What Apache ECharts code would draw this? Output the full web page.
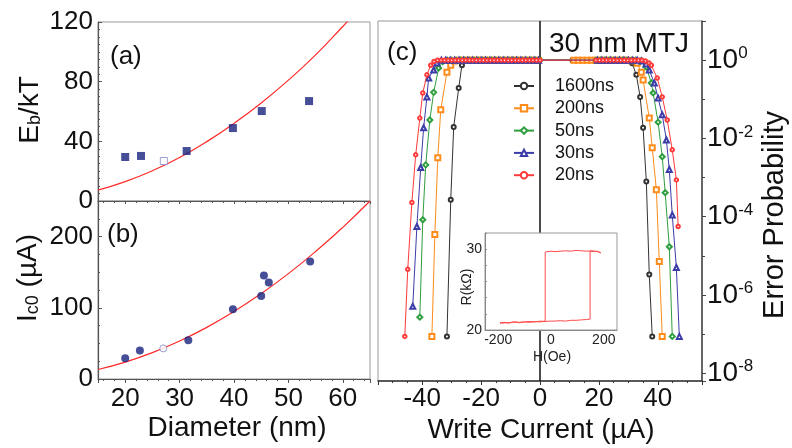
<!DOCTYPE html>
<html><head><meta charset="utf-8">
<script src="https://cdn.jsdelivr.net/npm/echarts@6/dist/echarts.min.js"></script>
<style>html,body{margin:0;padding:0;background:#fff}#c{width:792px;height:448px}</style>
</head><body><div id="c"></div>
<script>
const FONT = '"Liberation Sans", Arial, Helvetica, sans-serif';
// ---------- panel (a): Eb/kT vs diameter ----------
const diamA = [20, 22.9, 31.3, 39.8, 45.1, 53.8];
const ebA = [29.5, 30.2, 33.5, 48.9, 60.3, 67];
const diamAOpen = [27.1];
const ebAOpen = [26.8];
const fitDiamA = [15, 20, 25, 30, 35, 40, 45, 50, 55, 60, 61];
const fitEbA = [7.3, 13, 20.3, 29.2, 39.8, 52, 65.7, 81, 98, 117, 121];
// ---------- panel (b): Ic0 vs diameter ----------
const diamB = [20, 22.7, 31.6, 39.8, 45, 45.5, 46.4, 54];
const icB = [29, 40, 54.5, 98, 116.5, 145.5, 135.7, 165];
const diamBOpen = [27];
const icBOpen = [43];
const fitDiamB = [15, 20, 25, 30, 35, 40, 45, 50, 55, 60, 65];
const fitIcB = [13.3, 23.7, 37, 53.3, 72.5, 94.7, 120, 148, 179, 213, 250];
// ---------- panel (c): error probability vs write current [current, probability] ----------
const pulseNames = ['1600ns', '200ns', '50ns', '30ns', '20ns'];
const s1600 = [[-31.6,8.7e-8],[-30.3,2.7e-4],[-29.3,0.0195],[-27.6,0.195],[-26.5,0.74],[-25,1],[-23.5,1],[-22,1],[-20.5,1],[-19,1],[-17.5,1],[-16,1],[-14.5,1],[-13,1],[-11.5,1],[-10,1],[-8.5,1],[-7,1],[-5.5,1],[-4,1],[-2.5,1],[-1,1],[11,1],[12.5,1],[14,1],[15.5,1],[17,1],[18.5,1],[20,1],[21.5,1],[23,1],[24.5,1],[26,1],[27.5,1],[29,1],[30.2,0.97],[31.3,0.83],[32.7,0.42],[34,0.115],[35,0.0186],[36.1,7.9e-4],[37.1,3.3e-6],[38.1,8.7e-8]];
const s200 = [[-36.7,8.7e-8],[-35.7,3.5e-5],[-34.7,3.2e-3],[-33.7,0.054],[-31.6,0.49],[-30.3,0.74],[-29,0.95],[-27.5,1],[-26,1],[-24.5,1],[-23,1],[-21.5,1],[-20,1],[-18.5,1],[-17,1],[-15.5,1],[-14,1],[-12.5,1],[-11,1],[-9.5,1],[-8,1],[-6.5,1],[-5,1],[-3.5,1],[-2,1],[-0.5,1],[11.5,1],[13,1],[14.5,1],[16,1],[17.5,1],[19,1],[20.5,1],[22,1],[23.5,1],[25,1],[26.5,1],[28,1],[29.5,1],[31,0.97],[33,0.83],[34.4,0.49],[35,0.31],[37.1,0.033],[38.1,5.8e-3],[39.5,4.9e-4],[40.5,7.1e-6],[41.5,8.7e-8]];
const s50 = [[-40.8,2.7e-7],[-39.8,8.3e-5],[-38.8,2.1e-3],[-37.4,0.0295],[-36.1,0.15],[-34.4,0.63],[-33,0.92],[-31.5,1],[-30,1],[-28.5,1],[-27,1],[-25.5,1],[-24,1],[-22.5,1],[-21,1],[-19.5,1],[-18,1],[-16.5,1],[-15,1],[-13.5,1],[-12,1],[-10.5,1],[-9,1],[-7.5,1],[-6,1],[-4.5,1],[-3,1],[-1.5,1],[0,1],[19,1],[20.5,1],[22,1],[23.5,1],[25,1],[26.5,1],[28,1],[29.5,1],[31,1],[32.5,1],[34,0.95],[36.1,0.66],[37.8,0.26],[38.4,0.145],[40.1,0.026],[41.5,3.4e-3],[42.5,4.1e-4],[43.9,1.7e-5],[44.9,8.7e-8]];
const s30 = [[-43.2,5.1e-7],[-41.8,5.6e-5],[-40.5,1.8e-3],[-39.5,0.0186],[-38.4,0.115],[-37.8,0.35],[-36.1,0.56],[-35,0.85],[-33.5,1],[-32,1],[-30.5,1],[-29,1],[-27.5,1],[-26,1],[-24.5,1],[-23,1],[-21.5,1],[-20,1],[-18.5,1],[-17,1],[-15.5,1],[-14,1],[-12.5,1],[-11,1],[-9.5,1],[-8,1],[-6.5,1],[-5,1],[-3.5,1],[-2,1],[-0.5,1],[19.5,1],[21,1],[22.5,1],[24,1],[25.5,1],[27,1],[28.5,1],[30,1],[31.5,1],[33,1],[34.5,0.95],[36,0.8],[37.1,0.56],[38.8,0.26],[40.1,0.107],[41.5,0.04],[42.9,9.1e-3],[43.9,1.6e-3],[44.9,1.1e-4],[46.3,5e-6],[47.3,8.7e-8]];
const s20 = [[-45.9,8.7e-8],[-44.9,4.5e-6],[-43.5,2.3e-4],[-42.2,3.8e-3],[-40.8,0.033],[-39.8,0.145],[-38.4,0.42],[-37.1,0.74],[-36,0.92],[-34.8,1],[-33.6,1],[-32.4,1],[-31.2,1],[-30,1],[-28.8,1],[-27.6,1],[-26.4,1],[-25.2,1],[-24,1],[-22.8,1],[-21.6,1],[-20.4,1],[-19.2,1],[-18,1],[-16.8,1],[-15.6,1],[-14.4,1],[-13.2,1],[-12,1],[-10.8,1],[-9.6,1],[-8.4,1],[-7.2,1],[-6,1],[-4.8,1],[-3.6,1],[-2.4,1],[-1.2,1],[0,1],[19,1],[20.2,1],[21.4,1],[22.6,1],[23.8,1],[25,1],[26.2,1],[27.4,1],[28.6,1],[29.8,1],[31,1],[32.2,1],[33.4,1],[34.6,1],[35.8,0.95],[37,0.85],[37.8,0.74],[39.8,0.35],[41.5,0.115],[43.2,0.0295],[44.9,5.1e-3],[46.3,8.7e-4],[46.9,5.6e-5]];
// ---------- inset: R vs H hysteresis loop ----------
const fieldH = [-193,-175,-160,-140,-120,-100,-80,-60,-40,-22,-5,15,35,55,75,95,115,135,148,148,160,175,189,175,155,135,115,95,75,55,35,15,0,-22,-22,-40,-60,-80,-100,-120,-140,-160,-193];
const resR = [20.9,20.95,20.85,21.0,20.95,21.0,21.05,21.0,21.1,21.05,21.1,21.1,21.15,21.1,21.2,21.2,21.25,21.3,21.35,29.75,29.7,29.75,29.55,29.7,29.8,29.75,29.8,29.85,29.75,29.8,29.75,29.7,29.75,29.65,21.1,21.0,21.05,20.95,21.0,20.9,21.0,20.9,20.85];

const colors = ['#333333', '#ff8c1a', '#2e9e3e', '#3c3ca8', '#ff3a3a'];
const symbols = ['emptyCircle', 'emptyRect', 'emptyDiamond', 'emptyTriangle', 'emptyCircle'];
const symSizes = [4, 5, 5, 5, 3.5];
const navy = '#18227e';
const pair = (xs, ys) => xs.map((x, i) => [x, ys[i]]);
const AX = '#555';

const chart = echarts.init(document.getElementById('c'), null, {renderer: 'canvas'});

const leftLabel = {fontSize: 26, color: '#111', fontFamily: FONT};
const cSeries = [s1600, s200, s50, s30, s20].map((d, i) => ({
  name: pulseNames[i], type: 'line', xAxisIndex: 2, yAxisIndex: 2,
  data: d.map(p => [p[0], Math.log10(p[1])]),
  symbol: symbols[i], symbolSize: symSizes[i], showAllSymbol: true,
  lineStyle: {color: colors[i], width: 1},
  itemStyle: {color: colors[i], borderWidth: 1},
  z: 3 + i, silent: true, animation: false
}));
cSeries[0].markLine = {
  silent: true, symbol: 'none', label: {show: false},
  lineStyle: {color: '#111', width: 1.5, type: 'solid'},
  data: [{xAxis: 0}]
};

const option = {
  animation: false,
  backgroundColor: '#fff',
  textStyle: {fontFamily: FONT},
  grid: [
    {left: 98, top: 22, width: 272, height: 179, show: true, borderColor: '#999', borderWidth: 1},
    {left: 98, top: 201, width: 272, height: 178, show: true, borderColor: '#999', borderWidth: 1},
    {left: 378, top: 21, width: 324, height: 360, show: true, borderColor: '#999', borderWidth: 1},
    {left: 485, top: 233, width: 132, height: 97, show: true, backgroundColor: '#fff', borderColor: '#999', borderWidth: 1, z: 10}
  ],
  legend: {
    orient: 'vertical', left: 513, top: 77, padding: 0, itemWidth: 20, itemHeight: 8, itemGap: 4.3,
    data: pulseNames, selectedMode: false,
    textStyle: {fontSize: 18, color: '#111', fontFamily: FONT, padding: [0, 0, 0, 16]}
  },
  xAxis: [
    {gridIndex: 0, type: 'value', min: 15, max: 65, splitNumber: 5,
     axisLine: {lineStyle: {color: AX, width: 1.2}}, axisLabel: {show: false},
     axisTick: {length: 3, lineStyle: {color: AX}}, minorTick: {show: true, splitNumber: 5, length: 2, lineStyle: {color: AX}},
     splitLine: {show: false}},
    {gridIndex: 1, type: 'value', min: 15, max: 65, splitNumber: 5,
     axisLine: {lineStyle: {color: AX, width: 1.2}},
     axisLabel: Object.assign({margin: 7, showMinLabel: false, showMaxLabel: false}, leftLabel),
     axisTick: {length: 4, lineStyle: {color: AX}}, minorTick: {show: true, splitNumber: 5, length: 2, lineStyle: {color: AX}},
     splitLine: {show: false}},
    {gridIndex: 2, type: 'value', min: -55, max: 55, splitNumber: 5,
     axisLine: {onZero: false, lineStyle: {color: '#333', width: 1.5}},
     axisLabel: Object.assign({margin: 5, showMinLabel: false, showMaxLabel: false}, leftLabel),
     axisTick: {length: 4, lineStyle: {color: '#333'}}, minorTick: {show: true, splitNumber: 4, length: 2, lineStyle: {color: '#333'}},
     splitLine: {show: false}},
    {gridIndex: 3, type: 'value', min: -250, max: 250, splitNumber: 5, z: 11,
     axisLine: {onZero: false, lineStyle: {color: '#888'}},
     axisLabel: {fontSize: 14, color: '#222', margin: 3, fontFamily: FONT,
       formatter: v => (v === -200 || v === 0 || v === 200) ? String(v) : ''},
     axisTick: {show: false}, splitLine: {show: false}}
  ],
  yAxis: [
    {gridIndex: 0, type: 'value', min: 0, max: 120, interval: 40,
     axisLine: {show: true, lineStyle: {color: AX, width: 1.2}},
     axisLabel: Object.assign({margin: 5}, leftLabel),
     axisTick: {inside: true, length: 4, lineStyle: {color: AX}},
     minorTick: {show: true, splitNumber: 8, length: 2, lineStyle: {color: AX}},
     splitLine: {show: false}},
    {gridIndex: 1, type: 'value', min: 0, max: 250, interval: 100,
     axisLine: {show: true, lineStyle: {color: AX, width: 1.2}},
     axisLabel: Object.assign({margin: 5, showMaxLabel: false}, leftLabel),
     axisTick: {inside: true, length: 4, lineStyle: {color: AX}},
     minorTick: {show: true, splitNumber: 4, length: 2, lineStyle: {color: AX}},
     splitLine: {show: false}},
    {gridIndex: 2, type: 'value', position: 'right', min: -8.2, max: 1, splitNumber: 5,
     axisLine: {show: true, onZero: false, lineStyle: {color: '#444', width: 1.5}},
     axisLabel: {margin: 5, showMinLabel: false, showMaxLabel: false, color: '#111',
       formatter: v => '{b|10}{s|' + v + '}',
       rich: {b: {fontSize: 28, fontFamily: FONT, color: '#111', lineHeight: 30},
              s: {fontSize: 17, fontFamily: FONT, color: '#111', verticalAlign: 'top', lineHeight: 15}}},
     axisTick: {length: 4, lineStyle: {color: '#444'}},
     minorTick: {show: true, splitNumber: 2, length: 3, lineStyle: {color: '#444'}},
     splitLine: {show: false}},
    {gridIndex: 3, type: 'value', min: 20, max: 32, splitNumber: 5, z: 11,
     axisLine: {show: true, onZero: false, lineStyle: {color: '#888'}},
     axisLabel: {fontSize: 14, color: '#222', margin: 3, fontFamily: FONT,
       formatter: v => (v === 20 || v === 30) ? String(v) : ''},
     axisTick: {inside: true, length: 2, lineStyle: {color: '#888'}},
     splitLine: {show: false}}
  ],
  series: [
    {type: 'line', xAxisIndex: 0, yAxisIndex: 0, data: pair(fitDiamA, fitEbA), smooth: true, showSymbol: false,
     lineStyle: {color: '#ff2a2a', width: 1.2}, z: 2, silent: true},
    {type: 'scatter', xAxisIndex: 0, yAxisIndex: 0, data: pair(diamA, ebA), symbol: 'rect', symbolSize: 8,
     itemStyle: {color: navy}, z: 3, silent: true},
    {type: 'scatter', xAxisIndex: 0, yAxisIndex: 0, data: pair(diamAOpen, ebAOpen), symbol: 'rect', symbolSize: 7,
     itemStyle: {color: '#fff', borderColor: '#7f86c8', borderWidth: 1}, z: 3, silent: true},
    {type: 'line', xAxisIndex: 1, yAxisIndex: 1, data: pair(fitDiamB, fitIcB), smooth: true, showSymbol: false,
     lineStyle: {color: '#ff2a2a', width: 1.2}, z: 2, silent: true},
    {type: 'scatter', xAxisIndex: 1, yAxisIndex: 1, data: pair(diamB, icB), symbol: 'circle', symbolSize: 8,
     itemStyle: {color: navy}, z: 3, silent: true},
    {type: 'scatter', xAxisIndex: 1, yAxisIndex: 1, data: pair(diamBOpen, icBOpen), symbol: 'circle', symbolSize: 7,
     itemStyle: {color: '#fff', borderColor: '#7f86c8', borderWidth: 1}, z: 3, silent: true},
    ...cSeries,
    {type: 'line', xAxisIndex: 3, yAxisIndex: 3, data: pair(fieldH, resR), showSymbol: false,
     lineStyle: {color: '#ff4a4a', width: 1}, z: 12, silent: true,
     markLine: {silent: true, symbol: 'none', label: {show: false},
       lineStyle: {color: '#777', width: 1, type: 'solid'}, data: [{xAxis: 0}]}}
  ],
  graphic: [
    {type: 'text', x: 110, y: 57, style: {text: '(a)', fontSize: 26, fontFamily: FONT, fill: '#111', align: 'left', verticalAlign: 'middle', textAlign: 'left', textVerticalAlign: 'middle'}},
    {type: 'text', x: 107, y: 235, style: {text: '(b)', fontSize: 26, fontFamily: FONT, fill: '#111', align: 'left', verticalAlign: 'middle', textAlign: 'left', textVerticalAlign: 'middle'}},
    {type: 'text', x: 387, y: 53, style: {text: '(c)', fontSize: 26, fontFamily: FONT, fill: '#111', align: 'left', verticalAlign: 'middle', textAlign: 'left', textVerticalAlign: 'middle'}},
    {type: 'text', x: 549, y: 44, style: {text: '30 nm MTJ', fontSize: 28, fontFamily: FONT, fill: '#111', align: 'left', verticalAlign: 'middle', textAlign: 'left', textVerticalAlign: 'middle'}},
    {type: 'text', x: 30, y: 110, rotation: Math.PI / 2, style: {text: '{n|E}{sub|b}{n|/kT}', align: 'center', verticalAlign: 'middle', textAlign: 'center', textVerticalAlign: 'middle',
      rich: {n: {fontSize: 28, fontFamily: FONT, fill: '#111', color: '#111'}, sub: {fontSize: 18, fontFamily: FONT, fill: '#111', color: '#111', verticalAlign: 'bottom', lineHeight: 18}}}},
    {type: 'text', x: 28, y: 278, rotation: Math.PI / 2, style: {text: '{n|I}{sub|c0}{n| (µA)}', align: 'center', verticalAlign: 'middle', textAlign: 'center', textVerticalAlign: 'middle',
      rich: {n: {fontSize: 28, fontFamily: FONT, fill: '#111', color: '#111'}, sub: {fontSize: 18, fontFamily: FONT, fill: '#111', color: '#111', verticalAlign: 'bottom', lineHeight: 18}}}},
    {type: 'text', x: 237, y: 428, style: {text: 'Diameter (nm)', fontSize: 28, fontFamily: FONT, fill: '#111', align: 'center', verticalAlign: 'middle', textAlign: 'center', textVerticalAlign: 'middle'}},
    {type: 'text', x: 541, y: 430, style: {text: 'Write Current (µA)', fontSize: 28, fontFamily: FONT, fill: '#111', align: 'center', verticalAlign: 'middle', textAlign: 'center', textVerticalAlign: 'middle'}},
    {type: 'text', x: 775, y: 215, rotation: Math.PI / 2, style: {text: 'Error Probability', fontSize: 29, fontFamily: FONT, fill: '#111', align: 'center', verticalAlign: 'middle', textAlign: 'center', textVerticalAlign: 'middle'}},
    {type: 'text', x: 467, y: 287, rotation: Math.PI / 2, z: 20, style: {text: 'R(kΩ)', fontSize: 14, fontFamily: FONT, fill: '#222', align: 'center', verticalAlign: 'middle', textAlign: 'center', textVerticalAlign: 'middle'}},
    {type: 'text', x: 552, y: 357, z: 20, style: {text: 'H(Oe)', fontSize: 14, fontFamily: FONT, fill: '#222', align: 'center', verticalAlign: 'middle', textAlign: 'center', textVerticalAlign: 'middle'}}
  ]
};
chart.setOption(option);
</script></body></html>
